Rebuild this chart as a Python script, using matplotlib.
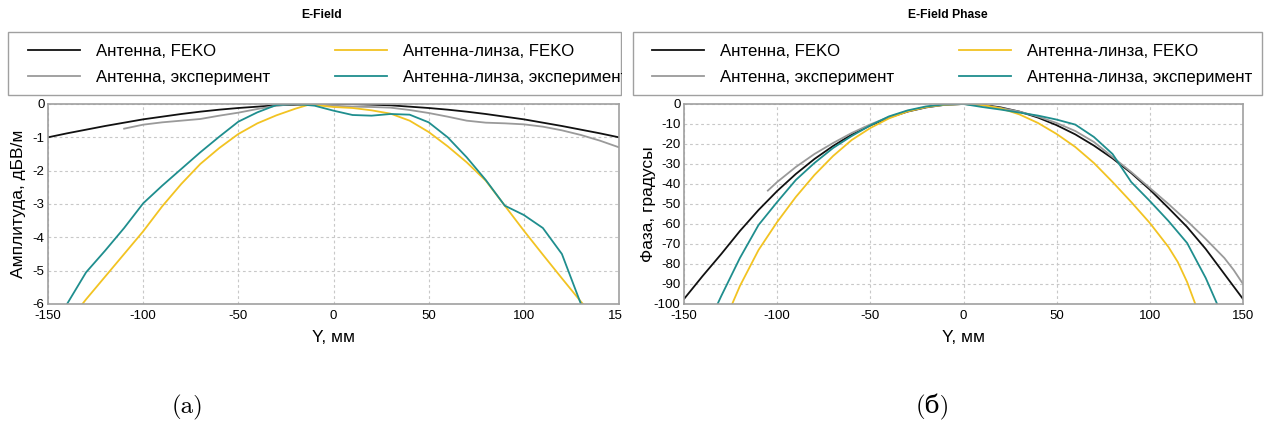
import matplotlib
matplotlib.use('Agg')
import matplotlib.pyplot as plt
from matplotlib.patches import Rectangle
from matplotlib.lines import Line2D

plt.rcParams['font.family'] = ['Liberation Sans', 'DejaVu Sans']
plt.rcParams['axes.unicode_minus'] = False

# ---- data: amplitude (dB V/m) ----
amp_ant_feko_x = [-150, -140, -130, -120, -110, -100, -90, -80, -70, -60, -50, -40, -30, -20, -10, 0,
                  10, 20, 30, 40, 50, 60, 70, 80, 90, 100, 110, 120, 130, 140, 150]
amp_ant_feko_y = [-1.0, -0.88, -0.77, -0.66, -0.56, -0.46, -0.38, -0.30, -0.23, -0.17, -0.12, -0.08, -0.04, -0.02, -0.005, 0.0,
                  -0.005, -0.02, -0.04, -0.08, -0.12, -0.17, -0.23, -0.30, -0.38, -0.46, -0.56, -0.66, -0.77, -0.88, -1.0]

amp_ant_exp_x = [-110, -100, -90, -80, -70, -60, -50, -40, -30, -20, -10, 0, 10, 20, 30, 40,
                 50, 60, 70, 80, 90, 100, 110, 120, 130, 140, 150]
amp_ant_exp_y = [-0.74, -0.62, -0.55, -0.50, -0.45, -0.35, -0.26, -0.15, -0.05, 0.0, 0.0, -0.05, -0.08, -0.09, -0.11, -0.18,
                 -0.27, -0.38, -0.50, -0.56, -0.58, -0.61, -0.68, -0.79, -0.93, -1.10, -1.30]

amp_lens_feko_x = [-134, -130, -120, -110, -100, -90, -80, -70, -60, -50, -40, -30, -20, -13, -10, 0,
                   10, 20, 30, 40, 50, 60, 70, 80, 90, 100, 110, 120, 130, 134]
amp_lens_feko_y = [-6.15, -5.86, -5.18, -4.50, -3.82, -3.07, -2.40, -1.80, -1.32, -0.90, -0.58, -0.34, -0.14, -0.02, -0.03, -0.09,
                   -0.12, -0.19, -0.29, -0.50, -0.84, -1.27, -1.75, -2.30, -3.05, -3.80, -4.52, -5.23, -5.93, -6.20]

amp_lens_exp_x = [-140, -130, -120, -110, -100, -90, -80, -70, -60, -50, -40, -30, -20, -10, 0,
                  10, 20, 30, 40, 50, 60, 70, 80, 90, 100, 110, 120, 130]
amp_lens_exp_y = [-6.0, -5.05, -4.40, -3.72, -2.98, -2.45, -1.95, -1.45, -0.98, -0.53, -0.25, -0.03, 0.0, -0.05, -0.20,
                  -0.33, -0.35, -0.30, -0.32, -0.55, -1.00, -1.60, -2.28, -3.05, -3.33, -3.72, -4.50, -6.0]

# ---- data: phase (degrees) ----
ph_ant_feko_x = [-150, -140, -130, -120, -110, -100, -90, -80, -70, -60, -50, -40, -30, -20, -10, 0,
                 10, 20, 30, 40, 50, 60, 70, 80, 90, 100, 110, 120, 130, 140, 150]
ph_ant_feko_y = [-97.5, -86.0, -75.0, -63.5, -53.0, -43.5, -35.0, -27.5, -21.0, -15.3, -10.7, -6.8, -3.8, -1.7, -0.4, 0.0,
                 -0.4, -1.7, -3.8, -6.8, -10.6, -15.2, -20.8, -27.2, -34.5, -42.8, -52.0, -61.5, -72.5, -85.0, -97.5]

ph_ant_exp_x = [-105, -100, -90, -80, -70, -60, -50, -40, -30, -20, -10, 0, 10, 20, 30, 40,
                50, 60, 70, 80, 90, 100, 110, 120, 130, 140, 145, 150]
ph_ant_exp_y = [-43.3, -39.0, -31.5, -25.0, -19.5, -14.5, -10.2, -6.5, -3.5, -1.5, -0.4, 0.0, -0.6, -2.0, -3.8, -6.3,
                -9.5, -13.5, -19.0, -26.5, -34.0, -42.0, -50.0, -58.5, -67.5, -77.0, -83.0, -90.0]

ph_lens_feko_x = [-126, -120, -110, -100, -90, -80, -70, -60, -50, -40, -30, -20, -10, 0,
                  10, 20, 30, 40, 50, 60, 70, 80, 90, 100, 110, 115, 120, 126]
ph_lens_feko_y = [-104.0, -91.0, -73.0, -59.0, -46.5, -35.5, -26.0, -18.0, -12.0, -7.2, -3.7, -1.5, -0.3, 0.0,
                  -0.5, -2.2, -5.2, -9.5, -15.0, -21.5, -29.5, -39.0, -49.0, -59.5, -71.5, -79.0, -89.0, -104.0]

ph_lens_exp_x = [-134, -130, -120, -110, -100, -90, -80, -70, -60, -50, -40, -30, -20, -10, 0,
                 10, 20, 30, 40, 50, 60, 70, 80, 90, 100, 110, 120, 130, 138]
ph_lens_exp_y = [-104.0, -96.0, -77.0, -60.5, -49.0, -38.0, -29.5, -22.0, -16.0, -10.7, -6.2, -3.2, -1.2, -0.2, 0.0,
                 -1.5, -2.8, -4.3, -5.8, -7.8, -10.3, -16.5, -25.0, -39.0, -48.5, -58.5, -69.5, -87.0, -104.0]

labels = ['Антенна, FEKO', 'Антенна, эксперимент', 'Антенна-линза, FEKO', 'Антенна-линза, эксперимент']
colors = ['#111111', '#9a9a9a', '#f2c322', '#1f8e8e']

W, H = 1267, 425
fig = plt.figure(figsize=(W / 100, H / 100), dpi=100)
fig.patch.set_facecolor('white')


def fx(px):
    return px / W


def fy(py):
    return 1 - py / H


ax1 = fig.add_axes([fx(48), fy(304), fx(619) - fx(48), fy(104) - fy(304)])
ax2 = fig.add_axes([fx(684), fy(304), fx(1243) - fx(684), fy(104) - fy(304)])

series1 = [(amp_ant_feko_x, amp_ant_feko_y), (amp_ant_exp_x, amp_ant_exp_y),
           (amp_lens_feko_x, amp_lens_feko_y), (amp_lens_exp_x, amp_lens_exp_y)]
series2 = [(ph_ant_feko_x, ph_ant_feko_y), (ph_ant_exp_x, ph_ant_exp_y),
           (ph_lens_feko_x, ph_lens_feko_y), (ph_lens_exp_x, ph_lens_exp_y)]

for ax, series in [(ax1, series1), (ax2, series2)]:
    for (x, y), c in zip(series, colors):
        ax.plot(x, y, color=c, lw=1.3)
    ax.set_xlim(-150, 150)
    ax.set_xticks([-150, -100, -50, 0, 50, 100, 150])
    ax.grid(True, color='#c8c8c8', linestyle=(0, (2.5, 2.5)), lw=0.8)
    ax.set_axisbelow(True)
    for sp in ax.spines.values():
        sp.set_color('#a0a0a0')
        sp.set_linewidth(1.2)
    ax.tick_params(length=0, labelsize=9.5, colors='black')
    ax.tick_params(axis='x', pad=4.5)
    ax.tick_params(axis='y', pad=2.5)
    ax.set_xlabel('Y, мм', fontsize=12.5, va='center')
    ax.xaxis.set_label_coords(0.5, -(337 - 304) / 200)

ax1.set_ylim(-6, 0)
ax1.set_yticks([0, -1, -2, -3, -4, -5, -6])
ax1.set_ylabel('Амплитуда, дБВ/м', fontsize=12.5, va='center')
ax1.yaxis.set_label_coords((18 - 48) / 571, 0.5)

ax2.set_ylim(-100, 0)
ax2.set_yticks(list(range(0, -101, -10)))
ax2.set_ylabel('Фаза, градусы', fontsize=12.5, va='center')
ax2.yaxis.set_label_coords((648 - 684) / 559, 0.5)

# titles
fig.text(fx(322), fy(15), 'E-Field', fontsize=8.7, fontweight='bold', ha='center', va='center')
fig.text(fx(948), fy(15), 'E-Field Phase', fontsize=8.7, fontweight='bold', ha='center', va='center')

# legends: frame drawn separately, entries spread over the box
handles = [Line2D([], [], color=c, lw=1.3) for c in colors]
for box_x0, box_x1, ent_x0 in [(8, 621, 28), (633, 1262, 652)]:
    fig.patches.append(Rectangle((fx(box_x0), fy(95)), fx(box_x1) - fx(box_x0), fy(32) - fy(95),
                                 transform=fig.transFigure, facecolor='white',
                                 edgecolor='#a0a0a0', lw=1.0, zorder=1))
    fig.legend(handles, labels, ncol=2, mode='expand', loc='upper left',
               bbox_to_anchor=(fx(ent_x0), fy(44), fx(600), 0),
               fontsize=12.1, handlelength=3.1, handletextpad=0.95, labelspacing=0.66,
               borderaxespad=0, borderpad=0, frameon=False)

# left panel is cut off at its right edge
fig.patches.append(Rectangle((fx(621.6), 0), fx(631) - fx(621.6), 1, transform=fig.transFigure,
                             facecolor='white', edgecolor='none', zorder=10))

# captions
fig.text(fx(187), fy(407), '(a)', fontsize=18, family=['cmr10', 'DejaVu Serif'], ha='center', va='center')
fig.text(fx(933), fy(407), '(б)', fontsize=18, family=['cmr10', 'DejaVu Serif'], ha='center', va='center')

fig.savefig('out.png', dpi=100)
